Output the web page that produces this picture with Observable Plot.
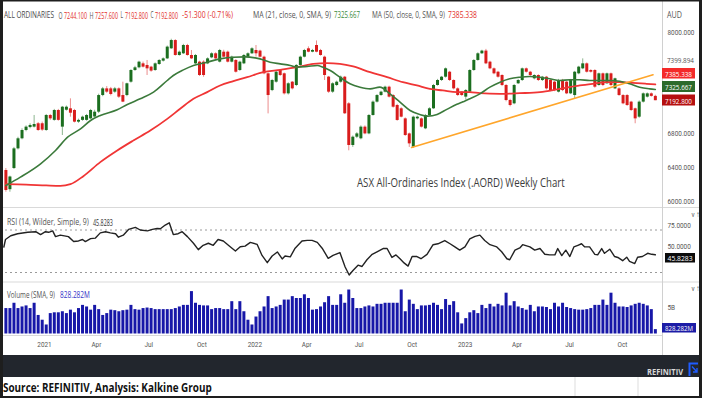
<!DOCTYPE html>
<html><head><meta charset="utf-8">
<script src="https://cdn.jsdelivr.net/npm/d3@7"></script>
<script src="https://cdn.jsdelivr.net/npm/@observablehq/plot@0.6"></script>
<style>
html,body{margin:0;padding:0;background:#fff;}
#root{position:relative;width:702px;height:398px;overflow:hidden;background:#fff;}
#root svg{position:absolute;left:0;}
</style></head><body><div id="root"></div>
<script>
// ---------- DATA ----------
const weekStart = "2020-10-26"; // first weekly bar
const opens = [6367,6140,6390,6623,6742,6840,6875,6880,6920,6920,
6840,7018,6960,7077,6880,7080,7097,7077,6939,6960,
6960,6978,7000,7057,7254,7333,7333,7294,7333,7254,
7254,7412,7550,7582,7629,7610,7590,7550,7621,7661,
7688,7807,7905,7728,7748,7846,7728,7629,7649,7649,
7629,7700,7748,7649,7767,7767,7649,7669,7550,7629,
7708,7748,7787,7780,7708,7511,7313,7412,7550,7511,
7274,7412,7373,7610,7708,7807,7767,7846,7787,7708,
7472,7294,7373,7412,7471,7156,6663,6761,6742,6880,
6800,7018,7176,7254,7294,7353,7254,7136,7097,6978,
6800,6643,6978,6978,6860,7018,7097,7373,7432,7471,
7530,7432,7333,7294,7235,7294,7550,7669,7748,7780,
7649,7570,7530,7491,7373,7195,7156,7393,7432,7570,
7530,7452,7491,7432,7471,7432,7412,7294,7432,7412,
7274,7254,7511,7570,7629,7550,7550,7373,7511,7393,
7511,7333,7333,7254,7254,7176,7097,6998,7176,7235,
7274,7244.1];
const highs = [6390,6300,6640,6760,6860,6895,6920,7018,6935,6940,
7030,7030,7090,7090,7125,7130,7215,7090,6975,7010,
7030,7090,7080,7270,7350,7360,7350,7350,7345,7412,
7400,7560,7600,7660,7650,7669,7600,7640,7680,7700,
7840,7920,7915,7780,7860,7860,7787,7740,7660,7665,
7700,7760,7760,7800,7790,7780,7720,7680,7660,7740,
7760,7820,7846,7790,7720,7520,7445,7545,7560,7520,
7405,7420,7620,7720,7800,7830,7800,7900,7800,7720,
7480,7405,7425,7485,7480,7170,6775,6815,6895,6895,
7030,7190,7265,7305,7365,7365,7265,7150,7110,6990,
6810,7010,7010,6990,7030,7110,7385,7445,7480,7580,
7540,7440,7345,7300,7325,7560,7680,7760,7790,7800,
7660,7580,7540,7500,7385,7210,7385,7445,7580,7580,
7540,7500,7500,7480,7480,7445,7420,7445,7445,7420,
7445,7540,7600,7688,7640,7560,7560,7520,7520,7520,
7520,7460,7345,7265,7265,7185,7105,7190,7285,7285,
7285,7257.6];
const lows = [6110,6110,6380,6610,6730,6825,6860,6870,6830,6830,
6830,6960,6950,6950,6781,7070,6998,6930,6925,6950,
6950,6970,6990,7040,7240,7280,7250,7280,7220,7170,
7240,7400,7540,7570,7580,7491,7530,7540,7610,7650,
7680,7800,7720,7720,7740,7720,7680,7620,7480,7470,
7620,7690,7680,7640,7700,7640,7640,7520,7540,7620,
7700,7740,7708,7700,7500,7037,7300,7400,7480,7260,
7260,7320,7360,7600,7700,7760,7760,7760,7720,7432,
7280,7280,7360,7400,7030,6600,6640,6745,6730,6790,
6790,7010,7165,7245,7285,7225,7105,6950,6990,6770,
6640,6630,6965,6870,6850,7010,7090,7365,7420,7460,
7420,7320,7245,7245,7200,7285,7540,7660,7740,7620,
7560,7500,7460,7360,7180,7120,7145,7385,7420,7520,
7480,7440,7420,7420,7320,7300,7300,7285,7300,7265,
7265,7215,7500,7560,7520,7520,7340,7365,7360,7385,
7360,7325,7245,7145,7125,7065,6920,6985,7165,7225,
7235,7192.8];
const closes = [6130,6290,6623,6742,6840,6880,6900,6911,6840,6845,
7018,6978,7077,6960,7116,7116,7045,6939,6960,6998,
7018,7077,7057,7254,7333,7294,7266,7333,7235,7176,
7393,7550,7582,7649,7590,7570,7543,7629,7669,7688,
7827,7905,7728,7767,7846,7728,7688,7728,7491,7491,
7688,7748,7688,7787,7708,7649,7708,7530,7649,7728,
7748,7807,7748,7708,7511,7254,7432,7530,7491,7274,
7393,7333,7610,7708,7787,7767,7787,7767,7728,7491,
7294,7393,7412,7471,7038,6663,6761,6800,6880,6800,
7018,7176,7254,7294,7353,7235,7116,6959,6998,6781,
6682,6998,6998,6880,7018,7097,7373,7432,7471,7570,
7432,7333,7254,7254,7313,7550,7669,7748,7780,7629,
7570,7511,7471,7373,7195,7136,7373,7432,7570,7530,
7491,7491,7432,7471,7333,7313,7313,7432,7313,7274,
7432,7530,7590,7629,7530,7530,7353,7511,7373,7511,
7373,7452,7254,7156,7136,7077,6978,7176,7274,7274,
7244.1,7192.8];
// weekly volume, billions of shares
const volumesB = [4.8,4.8,5.8,4.8,5.1,5.3,4.8,5.8,3.5,2.6,
1.7,3.85,4.0,4.0,4.2,3.85,4.5,4.0,4.8,5.4,
5.1,4.5,5.4,4.6,3.5,3.85,4.5,4.4,4.2,4.4,
4.5,5.4,4.6,4.5,4.8,4.9,4.8,4.6,4.6,4.6,
4.6,4.6,4.8,5.1,5.4,5.4,8.0,5.8,5.4,5.3,
5.3,4.6,4.8,4.8,4.6,4.6,6.1,4.6,6.1,4.2,
2.6,1.7,3.2,4.2,5.1,7.05,4.8,5.1,5.4,6.4,
6.4,7.05,6.7,6.7,7.4,6.7,4.5,4.6,5.1,5.9,
7.05,5.4,5.4,7.4,5.8,8.3,6.7,4.8,4.8,5.1,
5.3,5.1,5.6,5.6,5.8,5.8,5.8,5.8,8.3,4.2,
6.4,5.6,4.6,5.3,5.3,5.4,5.8,5.4,4.6,6.5,
5.4,6.1,4.0,1.9,2.9,4.0,4.4,3.85,5.4,4.8,
5.6,5.1,5.6,5.3,7.7,5.3,6.1,5.1,4.8,4.5,
5.4,4.2,5.1,5.1,5.0,4.6,5.8,5.1,5.8,5.0,
4.8,4.6,4.5,4.5,4.6,4.8,5.4,5.4,6.4,5.4,
7.7,5.8,5.1,5.1,5.0,5.3,5.6,5.8,5.6,5.3,
4.6,0.828282];
// MA(21): week index -> value
const ma21Week = [0,3.6,8.6,12.3,15.3,18.5,21,23.4,27.6,30.1,33.3,36.6,40,41.5,44,46.5,49.9,53.1,56.4,59.3,61.8,63,65.5,68,70.5,72.2,74.7,77.2,78.6,80.4,82.8,85.3,87.8,90.3,92.7,95.2,97.7,100.2,102.6,104.6,106.9,109.3,111.8,113.3,115,117.5,120,122.5,124.9,127.4,129.9,132.4,134.8,137.3,139.8,142.3,144.7,147.2,149.7,152.2,154.6,157.1,159.6,161];
const ma21Val = [6189,6288,6446,6604,6761,6860,6959,7018,7085,7148,7215,7294,7432,7491,7558,7610,7649,7688,7708,7712,7700,7688,7649,7629,7610,7590,7598,7610,7590,7550,7471,7393,7353,7333,7353,7274,7176,7077,7030,7010,7030,7090,7150,7180,7215,7274,7353,7412,7452,7471,7480,7471,7452,7432,7440,7440,7432,7432,7432,7424,7393,7353,7333,7325.667];
// MA(50)
const ma50Week = [0,5,10,13.5,16,19.2,23.4,27.6,31.6,35.8,40,43.2,46.5,49.9,53.1,56.4,59.8,63.8,68,72.2,76.2,79.6,82.8,86.1,90.3,94.5,98.4,101.9,105.1,108.3,111.8,115,117.5,122.5,127.4,132.4,137.3,142.3,145.5,148.9,152.2,155.4,158.8,161];
const ma50Val = [6205,6200,6190,6185,6205,6300,6466,6604,6722,6840,6978,7097,7215,7294,7373,7424,7471,7530,7558,7590,7629,7637,7629,7598,7530,7471,7412,7373,7333,7314,7294,7294,7282,7274,7282,7294,7333,7373,7393,7412,7412,7404,7393,7385.338];
// RSI(14)
const rsiWeek = [-0.5,-0.1,1.2,2.9,5.4,7.4,8.6,9.8,10.6,11.6,12.3,13.5,15.5,16.8,18,19,19.7,21,22.2,23.4,24.7,25.9,27.2,27.9,29.1,30.4,32.1,33.3,35.1,36.3,37.5,38.3,39.5,40.5,41.5,42.7,43.7,45,46.5,47.7,48.9,50.2,51.4,52.6,53.9,55.6,56.9,58.1,59.3,60.6,62.3,63.5,64.8,66,67.3,68.5,69.2,70.5,71.7,73.4,74.7,75.9,77.2,78.4,79.9,81.1,82.8,84.1,85.1,86.1,87.3,88.3,89.5,90.8,92,93.5,94.5,95.7,96.7,97.7,98.7,99.7,100.7,101.9,102.9,104.4,105.9,107.1,108.8,110.1,111.3,112.5,113.8,115,116.3,117.5,118.7,120,121.7,122.9,124.2,124.9,126.2,127.4,128.1,129.9,131.1,132.4,133.6,134.8,136.1,136.8,137.8,138.8,139.8,140.8,141.8,142.7,143.5,144.7,146,146.7,147.7,148.4,149.7,150.9,151.7,152.9,153.9,154.6,155.9,156.6,157.8,159.1,160.1,161];
const rsiVal = [55,63.8,68.2,70.6,72.3,73,69.6,73,72.3,74,67.2,68.9,67.2,61.4,62.1,63.8,61.4,64.8,65.5,71.6,73,71.6,70.6,66.5,68.9,75.7,78.1,75,74,75.7,76.7,76.4,80.8,83.5,69.6,70.6,73,67.2,59.4,51.9,57,59.4,57,63.8,62.1,55.3,50.2,55.3,56,60.4,58,45.1,36.6,44.4,49.2,41,44.4,43.4,53.6,62.1,62.8,62.8,60.4,53.6,41.7,45.1,48.5,31.5,22,27.6,33.6,32.1,40,46.4,49.4,53.2,53.2,42.7,45.7,41.2,36.3,32.5,43.8,43.8,41.2,46.4,57.7,58.8,62.6,58.8,55.1,51.3,55.1,64.5,67.5,69,62.6,57.7,55.1,49.4,41.2,40,51.3,53.9,57.7,55.1,51.3,53.2,46.4,45.7,45.7,53.2,44.9,51.3,43.8,55.1,57,58.8,55.1,55.1,46.4,45.7,53.2,47.6,52.4,43.8,42.7,38.9,43,38.2,35.5,43,43.8,47.6,46.4,45.8283];
// Support trend line
const trendDates = ["2022-09-30","2023-11-23"];
const trendVals = [6640,7500];
// Axis ticks
const xTickDates = ["2021-01-01","2021-04-01","2021-07-01","2021-10-01","2022-01-01","2022-04-01","2022-07-01","2022-10-01","2023-01-01","2023-04-01","2023-07-01","2023-10-01"];
const xTickLabels = ["2021","Apr","Jul","Oct","2022","Apr","Jul","Oct","2023","Apr","Jul","Oct"];
const priceTicks = [6000,6400,6800,8000];
const rsiTicks = [50,75];
const rsiBands = [25,75];
const volTicks = [5];

// ---------- BUILD ----------
const DAY = 864e5;
const t0 = Date.parse(weekStart + "T00:00:00Z");
const wk = w => new Date(t0 + w * 7 * DAY);
const candles = opens.map((o, i) => ({date: wk(i), o, h: highs[i], l: lows[i], c: closes[i]}));
const up = candles.filter(d => d.c >= d.o), dn = candles.filter(d => d.c < d.o);
const ma21 = ma21Week.map((w, i) => ({date: wk(w), v: ma21Val[i]}));
const ma50 = ma50Week.map((w, i) => ({date: wk(w), v: ma50Val[i]}));
const rsi = rsiWeek.map((w, i) => ({date: wk(w), v: rsiVal[i]}));
const vols = volumesB.map((v, i) => ({date: wk(i), v}));
const trend = trendDates.map((d, i) => ({date: new Date(d + "T00:00:00Z"), v: trendVals[i]}));
const xTicks = xTickDates.map(d => new Date(d + "T00:00:00Z"));
const tickLabel = new Map(xTicks.map((d, i) => [+d, xTickLabels[i]]));

const G = "#1b6e1f", R = "#d91c1c";
const xScale = {type: "utc", domain: [new Date("2021-01-01T00:00:00Z"), new Date("2023-10-01T00:00:00Z")], range: [44, 622], axis: null};
const baseStyle = {background: "transparent", fontFamily: "Roboto, 'Open Sans', sans-serif", fontSize: "8px", color: "#555", overflow: "visible"};

const price = Plot.plot({
  width: 702, height: 208, marginLeft: 0, marginRight: 40, marginTop: 0, marginBottom: 0,
  x: xScale, y: {domain: [6000, 8000], range: [201, 32], axis: null}, style: baseStyle,
  marks: [
    Plot.ruleX(up, {x: "date", y1: "l", y2: "h", stroke: G, strokeOpacity: 0.5, strokeWidth: 1}),
    Plot.ruleX(dn, {x: "date", y1: "l", y2: "h", stroke: R, strokeOpacity: 0.5, strokeWidth: 1}),
    Plot.ruleX(up, {x: "date", y1: "o", y2: "c", stroke: G, strokeWidth: 3}),
    Plot.ruleX(dn, {x: "date", y1: "o", y2: "c", stroke: R, strokeWidth: 3}),
    Plot.line(ma50, {x: "date", y: "v", stroke: "#f03535", strokeWidth: 1.8, curve: "monotone-x"}),
    Plot.line(ma21, {x: "date", y: "v", stroke: "#3b7a3b", strokeWidth: 1.6, curve: "monotone-x"}),
    Plot.line(trend, {x: "date", y: "v", stroke: "#ffa62b", strokeWidth: 1.6}),
    Plot.axisY({anchor: "right", ticks: priceTicks, tickFormat: d => d.toFixed(3), tickSize: 0, tickPadding: 5})
  ]
});
price.style.top = "0px";

const rsiPlot = Plot.plot({
  width: 702, height: 74, marginLeft: 0, marginRight: 40, marginTop: 0, marginBottom: 0,
  x: xScale, y: {domain: [25, 75], range: [64, 21.5], axis: null}, style: baseStyle,
  marks: [
    Plot.ruleY(rsiBands, {stroke: "#9a9a9a", strokeDasharray: "2,3", strokeWidth: 1}),
    Plot.line(rsi, {x: "date", y: "v", stroke: "#222", strokeWidth: 1.4}),
    Plot.axisY({anchor: "right", ticks: rsiTicks, tickFormat: d => d.toFixed(4), tickSize: 0, tickPadding: 5, dy: -5})
  ]
});
rsiPlot.style.top = "208px";

const volPlot = Plot.plot({
  width: 702, height: 73, marginLeft: 0, marginRight: 40, marginTop: 0, marginBottom: 20,
  x: xScale, y: {domain: [0, 5], range: [51.5, 25], axis: null}, style: baseStyle,
  marks: [
    Plot.ruleX(vols, {x: "date", y1: 0, y2: "v", stroke: "#1717a8", strokeWidth: 3}),
    Plot.axisY({anchor: "right", ticks: volTicks, tickFormat: d => d + "B", tickSize: 0, tickPadding: 5}),
    Plot.axisX({ticks: xTicks, tickFormat: d => tickLabel.get(+d), tickSize: 0, tickPadding: 6})
  ]
});
volPlot.style.top = "282px";

const root = document.getElementById("root");
root.append(price, rsiPlot, volPlot);
// narrow the axis label glyphs like the original condensed UI font
for (const s of [price, rsiPlot, volPlot]) {
  s.querySelectorAll("text").forEach(t => {
    const L = t.getComputedTextLength();
    if (L > 0) { t.setAttribute("textLength", (L * 0.8).toFixed(1)); t.setAttribute("lengthAdjust", "spacingAndGlyphs"); }
  });
}

// ---------- OVERLAY: frame, labels, value boxes ----------
const ovNode = d3.create("svg").attr("width", 702).attr("height", 398).style("top", "0px").node();
root.append(ovNode);
const ov = d3.select(ovNode);
const FONT = "'Open Sans', Roboto, sans-serif";
// text squeezed horizontally (condensed look) to width w via a transform
function T(x, y, s, o = {}) {
  const t = ov.append("text").attr("x", 0).attr("y", 0).attr("dominant-baseline", "central")
    .attr("font-family", o.font || FONT).attr("font-size", o.size || 8.5).attr("fill", o.fill || "#555")
    .attr("font-weight", o.weight || "normal").attr("text-anchor", o.anchor || "start").text(s);
  let sx = 1;
  if (o.w) { const L = t.node().getComputedTextLength(); if (L > 0) sx = o.w / L; }
  t.attr("transform", `translate(${x},${y}) scale(${sx.toFixed(4)},1)`);
  return t;
}
function box(x, y, w, h, fill, s, tw) {
  ov.append("rect").attr("x", x).attr("y", y).attr("width", w).attr("height", h).attr("fill", fill);
  T(x + w / 2, y + h / 2 + 0.3, s, {anchor: "middle", fill: "#fff", size: 8, w: tw});
}
const line = (x1, y1, x2, y2, c, sw = 1) => ov.append("line").attr("x1", x1).attr("y1", y1).attr("x2", x2).attr("y2", y2).attr("stroke", c).attr("stroke-width", sw);

// panel separators
line(3, 207.5, 699, 207.5, "#d9d9d9");
line(3, 282, 699, 282, "#d9d9d9");
line(3, 335.5, 662.5, 335.5, "#d9d9d9");
line(662.5, 1, 662.5, 355, "#d0d0d0");
// bottom band
ov.append("rect").attr("x", 3).attr("y", 355).attr("width", 696).attr("height", 22).attr("fill", "#22262d");
T(683, 371, "REFINITIV", {anchor: "end", w: 36, weight: "bold", fill: "#d8d8d8", size: 9});
ov.append("path").attr("d", "M689.5,376 V363.5 H698").attr("fill", "none").attr("stroke", "#1f5cff").attr("stroke-width", 2);
ov.append("path").attr("d", "M692,366.5 L697,372 M697,368 V372 H693").attr("fill", "none").attr("stroke", "#1f5cff").attr("stroke-width", 1.4);
line(575, 377, 575, 396, "#dddddd");
line(638, 377, 638, 396, "#dddddd");
T(3, 387, "Source: REFINITIV, Analysis: Kalkine Group", {w: 209, size: 12, weight: "bold", fill: "#111"});
// outer frame
ov.append("rect").attr("x", 0).attr("y", 0).attr("width", 3).attr("height", 398).attr("fill", "#1e1e1e");
ov.append("rect").attr("x", 699).attr("y", 0).attr("width", 3).attr("height", 398).attr("fill", "#1e1e1e");
ov.append("rect").attr("x", 0).attr("y", 0).attr("width", 702).attr("height", 1.5).attr("fill", "#1e1e1e");
ov.append("rect").attr("x", 0).attr("y", 396).attr("width", 702).attr("height", 2).attr("fill", "#1e1e1e");

// header legend
const last = opens.length - 1;
const RED = "#e3312b", GRN = "#3a8a3a", GRY = "#555";
const chg = closes[last] - closes[last - 1];
T(4, 15, "ALL ORDINARIES", {w: 50, fill: "#4a4a4a"});
T(58.5, 15, "O", {w: 4, fill: GRY}); T(64, 15, opens[last].toFixed(3), {w: 23, fill: RED});
T(89.5, 15, "H", {w: 4, fill: GRY}); T(95, 15, highs[last].toFixed(3), {w: 23, fill: RED});
T(120.5, 15, "L", {w: 2.5, fill: GRY}); T(125, 15, lows[last].toFixed(3), {w: 23, fill: RED});
T(150.5, 15, "C", {w: 3, fill: GRY}); T(155, 15, closes[last].toFixed(3), {w: 23, fill: RED});
T(182, 15, `${chg.toFixed(3)} (${(chg / closes[last - 1] * 100).toFixed(2)}%)`, {w: 51, fill: RED});
T(253, 15, "MA (21, close, 0, SMA, 9)", {w: 78, fill: GRY});
T(334, 15, ma21Val[ma21Val.length - 1].toFixed(3), {w: 26, fill: GRN});
T(372, 15, "MA (50, close, 0, SMA, 9)", {w: 73, fill: GRY});
T(448, 15, ma50Val[ma50Val.length - 1].toFixed(3), {w: 29, fill: RED});
T(667, 15, "AUD", {w: 15});
T(667, 60, "7399.894", {w: 27, size: 8});
// chart title
T(357, 182, "ASX All-Ordinaries Index (.AORD) Weekly Chart", {w: 208, size: 13, fill: "#3c3c3c"});
// sub-panel legends
T(7, 222, "RSI (14, Wilder, Simple, 9)", {w: 82, fill: GRY});
T(93, 222, rsiVal[rsiVal.length - 1].toFixed(4), {w: 20, fill: "#333"});
T(7, 295, "Volume (SMA, 9)", {w: 48, fill: GRY});
T(60, 295, (volumesB[last] * 1000).toFixed(3) + "M", {w: 30, fill: "#3535c8"});
// last value boxes
box(662, 68, 33, 10.5, "#f42a2a", ma50Val[ma50Val.length - 1].toFixed(3), 27);
box(662, 81, 33, 11, "#2c6b2c", ma21Val[ma21Val.length - 1].toFixed(3), 27);
box(662, 94.5, 33, 11, "#b51010", closes[last].toFixed(3), 27);
box(665, 253, 30, 9.5, "#0c0c0c", rsiVal[rsiVal.length - 1].toFixed(4), 25);
box(662, 323, 34, 9.5, "#1c1ca6", (volumesB[last] * 1000).toFixed(3) + "M", 28);
</script></body></html>
